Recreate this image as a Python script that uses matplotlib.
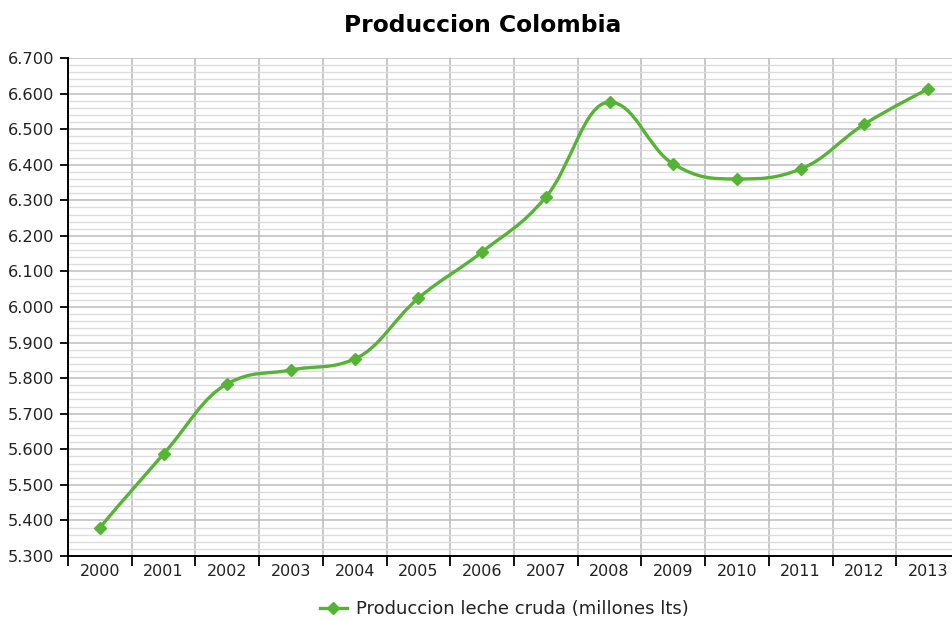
import numpy as np
import matplotlib.pyplot as plt
from matplotlib.path import Path
from matplotlib.patches import PathPatch
from matplotlib.lines import Line2D
from matplotlib.ticker import MultipleLocator, FuncFormatter

years = ['2000', '2001', '2002', '2003', '2004', '2005', '2006',
         '2007', '2008', '2009', '2010', '2011', '2012', '2013']
produccion = [5380, 5587, 5784, 5823, 5854, 6025, 6155,
              6309, 6576, 6402, 6360, 6388, 6514, 6613]
serie = 'Produccion leche cruda (millones lts)'
verde = '#56b435'


def spline_path(xs, ys, smoothing=1.5):
    # cubic bezier through every point, control points like a "spline" series
    denom = smoothing + 1
    verts = [(xs[0], ys[0])]
    codes = [Path.MOVETO]
    n = len(xs)
    ctrl = []
    for i in range(n):
        if i == 0 or i == n - 1:
            ctrl.append(((xs[i], ys[i]), (xs[i], ys[i])))
            continue
        lx, ly = xs[i - 1], ys[i - 1]
        nx, ny = xs[i + 1], ys[i + 1]
        px, py = xs[i], ys[i]
        lcx = (smoothing * px + lx) / denom
        lcy = (smoothing * py + ly) / denom
        rcx = (smoothing * px + nx) / denom
        rcy = (smoothing * py + ny) / denom
        corr = (rcy - lcy) * (rcx - px) / (rcx - lcx) + py - rcy
        lcy += corr
        rcy += corr
        if lcy > ly and lcy > py:
            lcy = max(ly, py)
            rcy = 2 * py - lcy
        elif lcy < ly and lcy < py:
            lcy = min(ly, py)
            rcy = 2 * py - lcy
        if rcy > ny and rcy > py:
            rcy = max(ny, py)
            lcy = 2 * py - rcy
        elif rcy < ny and rcy < py:
            rcy = min(ny, py)
            lcy = 2 * py - rcy
        ctrl.append(((lcx, lcy), (rcx, rcy)))
    for i in range(1, n):
        verts += [ctrl[i - 1][1], ctrl[i][0], (xs[i], ys[i])]
        codes += [Path.CURVE4] * 3
    return Path(verts, codes)


fig = plt.figure(figsize=(9.53, 6.21), dpi=100)
ax = fig.add_axes([68 / 953, 1 - 556 / 621, 892 / 953, 498 / 621])

x = np.arange(len(years))
ax.add_patch(PathPatch(spline_path(x, produccion), fill=False,
                       edgecolor=verde, lw=2.4, zorder=3, capstyle='round'))
ax.plot(x, produccion, ls='none', marker='D', ms=6.5, color=verde, zorder=4)

ax.set_xlim(-0.5, len(years) - 0.5)
ax.set_ylim(5300, 6700)

ax.yaxis.set_major_locator(MultipleLocator(100))
ax.yaxis.set_minor_locator(MultipleLocator(20))
ax.yaxis.set_major_formatter(FuncFormatter(lambda v, p: f'{v / 1000:.3f}'))
ax.grid(axis='y', which='major', color='#bdbdbd', lw=1.1)
ax.grid(axis='y', which='minor', color='#dcdcdc', lw=1.0)

# category boundaries carry the vertical grid and x ticks
ax.set_xticks(x - 0.5, minor=False)
ax.set_xticklabels([])
ax.set_xticks(x, minor=True)
ax.set_xticklabels(years, minor=True)
ax.grid(axis='x', which='major', color='#c8c8c8', lw=1.4)
ax.tick_params(axis='x', which='major', direction='out', length=7, width=1.3, color='black')
ax.tick_params(axis='x', which='minor', length=0, pad=6, labelsize=11.5, labelcolor='#222222')
ax.tick_params(axis='y', which='major', direction='out', length=6, width=1.3,
               labelsize=11.7, labelcolor='#222222', pad=4)
ax.tick_params(axis='y', which='minor', length=0)
ax.set_axisbelow(True)

for s in ['top', 'right']:
    ax.spines[s].set_visible(False)
for s in ['left', 'bottom']:
    ax.spines[s].set_color('black')
    ax.spines[s].set_linewidth(1.4)

fig.text(483 / 953, 1 - 25 / 621, 'Produccion Colombia', ha='center', va='center',
         fontsize=16.8, fontweight='bold', color='black')

handle = Line2D([], [], color=verde, lw=2.4, marker='D', ms=6.5)
fig.legend([handle], [serie], loc='center', bbox_to_anchor=(504 / 953, 1 - 609 / 621),
           frameon=False, fontsize=13, handlelength=1.5, handletextpad=0.5,
           labelcolor='#222222')

fig.savefig('out.png', dpi=100)
